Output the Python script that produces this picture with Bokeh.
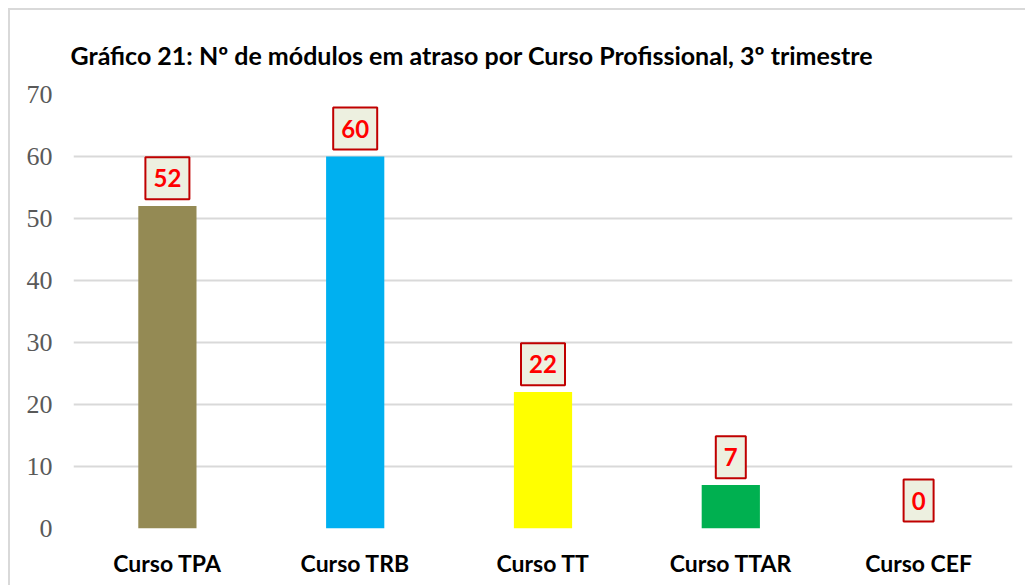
from bokeh.plotting import figure
from bokeh.models import ColumnDataSource
from bokeh.core.properties import value
from bokeh.embed import file_html
from bokeh.resources import INLINE

categories = ["Curso TPA", "Curso TRB", "Curso TT", "Curso TTAR", "Curso CEF"]
values = [52, 60, 22, 7, 0]
colors = ["#948a54", "#00b0f0", "#ffff00", "#00b050", "#7f7f7f"]
y_ticks = [0, 10, 20, 30, 40, 50, 60, 70]
title_text = "Gráfico 21: Nº de módulos em atraso por Curso Profissional, 3º trimestre"

LABEL_LIFT = 4.5  # data units between bar top and label box centre

src = ColumnDataSource(dict(
    cat=categories, val=values, col=colors,
    lab=[str(v) for v in values],
    ly=[v + LABEL_LIFT for v in values],
    lw=[16 + 14 * len(str(v)) for v in values],
))

p = figure(x_range=categories, y_range=(0, 70), width=1017, height=577,
           output_backend="svg", toolbar_location=None,
           min_border_left=63, min_border_right=15, min_border_top=84,
           min_border_bottom=59, outline_line_color=None,
           styles={"position": "absolute", "left": "8px", "top": "8px",
                   "border-top": "2px solid #d9d9d9", "border-left": "2px solid #d9d9d9"})

p.title.text = title_text
p.title.text_font = "Lato"
p.title.text_font_style = "bold"
p.title.text_font_size = "25px"
p.title.text_color = "#000000"
p.title.align = "left"
p.title.offset = -3
p.title.standoff = 50

p.vbar(x="cat", top="val", width=0.31, fill_color="col", line_color=None, source=src)

p.rect(x="cat", y="ly", width="lw", height=42, width_units="screen",
       height_units="screen", fill_color="#edf0e0", line_color="#c00000",
       line_width=2, source=src)
p.text(x="cat", y="ly", text="lab", text_align="center", text_baseline="middle",
       text_color="#ff0000", text_font=value("Lato"), text_font_style="bold",
       text_font_size="24px", source=src)

p.yaxis.ticker = y_ticks
p.yaxis.major_label_text_font = "Liberation Serif"
p.yaxis.major_label_text_font_size = "26px"
p.yaxis.major_label_text_color = "#595959"
p.yaxis.major_label_standoff = 15
p.yaxis.axis_line_color = None
p.yaxis.major_tick_line_color = None
p.yaxis.minor_tick_line_color = None

p.xaxis.major_label_text_font = "Lato"
p.xaxis.major_label_text_font_style = "bold"
p.xaxis.major_label_text_font_size = "23px"
p.xaxis.major_label_text_color = "#000000"
p.xaxis.major_label_standoff = 14
p.xaxis.axis_line_color = None
p.xaxis.major_tick_line_color = None

p.xgrid.grid_line_color = None
p.ygrid.grid_line_color = "#d9d9d9"
p.ygrid.grid_line_width = 2

open("out.html", "w").write(file_html(p, INLINE))
